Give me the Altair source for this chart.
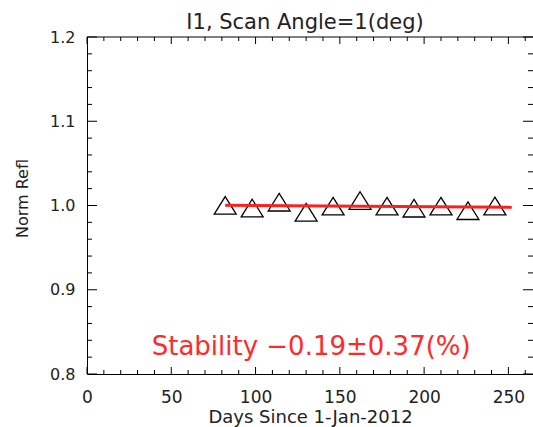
import altair as alt
import pandas as pd

# Normalised reflectance, I1 band, scan angle 1 deg
days = [82, 98, 114, 130, 146, 162, 178, 194, 210, 226, 242]
norm_refl = [1.0002, 0.9970, 1.0039, 0.9920, 0.9992, 1.0059,
             0.9992, 0.9968, 0.9992, 0.9938, 0.9994]

# Linear trend end points
fit_days = [82, 252]
fit_refl = [1.0002, 0.9978]

stability_label = ["Stability \u22120.19\u00b10.37(%)"]
stability_day = [133]
stability_refl = [0.832]

# Tick values (major ticks are labelled)
x_major = [0, 50, 100, 150, 200, 250]
x_minor = [10, 20, 30, 40, 60, 70, 80, 90, 110, 120, 130, 140,
           160, 170, 180, 190, 210, 220, 230, 240, 260]
y_major = [0.8, 0.9, 1.0, 1.1, 1.2]
y_minor = [0.82, 0.84, 0.86, 0.88, 0.92, 0.94, 0.96, 0.98,
           1.02, 1.04, 1.06, 1.08, 1.12, 1.14, 1.16, 1.18]

W, H = 446, 337
FONT = "DejaVu Sans"
INK = "#222222"

x_scale = alt.Scale(domain=[0, 264.6], nice=False, zero=False)
y_scale = alt.Scale(domain=[0.8, 1.2], nice=False, zero=False)

x_axis = alt.Axis(
    values=x_major, format="d", title="Days Since 1-Jan-2012",
    ticks=False, tickSize=0, grid=False, domain=True, domainColor="black",
    labelPadding=15, labelFontSize=17, labelFont=FONT, labelColor=INK,
    titleFont=FONT, titleFontSize=18, titleColor=INK, titleFontWeight="normal",
    titleY=43, titleBaseline="middle", labelFlush=False)
y_axis = alt.Axis(
    values=y_major, format=".1f", title="Norm Refl",
    ticks=False, tickSize=0, grid=False, domain=True, domainColor="black",
    labelPadding=12, labelFontSize=16, labelFont=FONT, labelColor=INK,
    titleFont=FONT, titleFontSize=16, titleColor=INK, titleFontWeight="normal",
    titlePadding=19, titleY=161, labelFlush=False)


def X(field):
    return alt.X(field, type="quantitative", scale=x_scale, axis=x_axis)


def Y(field):
    return alt.Y(field, type="quantitative", scale=y_scale, axis=y_axis)


obs = pd.DataFrame({"day": days, "refl": norm_refl})
fit = pd.DataFrame({"day": fit_days, "refl": fit_refl})
note = pd.DataFrame({"day": stability_day, "refl": stability_refl, "txt": stability_label})

points = alt.Chart(obs).mark_point(
    shape="M0,-0.8L1,0.8L-1,0.8Z", size=484, filled=False,
    color="black", strokeWidth=1.3, opacity=1,
).encode(x=X("day"), y=Y("refl"))

trend = alt.Chart(fit).mark_line(color="#ff1f1f", strokeWidth=3).encode(
    x=X("day"), y=Y("refl"),
)

label = alt.Chart(note).mark_text(
    font=FONT, fontSize=26, color="#ff2a2a", align="center", baseline="middle",
).encode(x=X("day"), y=Y("refl"), text="txt:N")


def x_ticks(values, length, top):
    df = pd.DataFrame({"day": values})
    y0, y1 = (0, length) if top else (H, H - length)
    return alt.Chart(df).mark_rule(color="black", strokeWidth=1).encode(
        x=X("day"), y=alt.value(y0), y2=alt.value(y1),
    )


def y_ticks(values, length, right):
    df = pd.DataFrame({"refl": values})
    x0, x1 = (W - length, W) if right else (0, length)
    return alt.Chart(df).mark_rule(color="black", strokeWidth=1).encode(
        y=Y("refl"), x=alt.value(x0), x2=alt.value(x1),
    )


top_edge = alt.Chart(pd.DataFrame({"day": [0]})).mark_rule(color="black", strokeWidth=1).encode(
    x=alt.value(0), x2=alt.value(W), y=alt.value(0),
)

ticks = [
    x_ticks(x_major, 7, False), x_ticks(x_minor, 4, False),
    x_ticks(x_major, 7, True), x_ticks(x_minor, 4, True),
    y_ticks(y_major, 10, False), y_ticks(y_minor, 5, False),
    y_ticks(y_major, 10, True), y_ticks(y_minor, 5, True),
]

chart = alt.layer(points, trend, label, top_edge, *ticks).properties(
    width=W, height=H,
    autosize=alt.AutoSizeParams(type="none"),
    padding={"left": 87, "top": 37, "right": 0, "bottom": 53},
    title=alt.TitleParams(
        "I1, Scan Angle=1(deg)", font=FONT, fontSize=21, fontWeight="normal",
        color=INK, anchor="middle", offset=-4, dx=-5,
    ),
    background="white",
).configure_view(stroke=None)

chart.save("out.html", embed_options={"renderer": "svg", "actions": False})
